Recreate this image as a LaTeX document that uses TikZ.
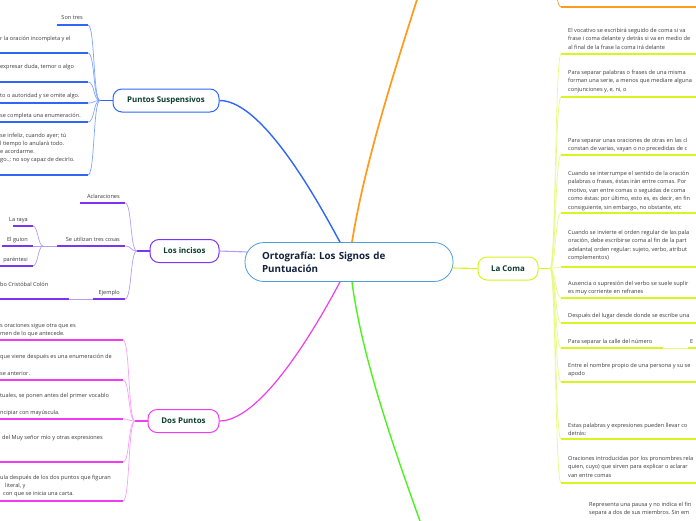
\documentclass[tikz,border=0pt]{standalone}
\usepackage{fontspec}
\setmainfont{Open Sans}
\frenchspacing
\definecolor{cenc}{HTML}{4F9DD6}
\definecolor{ink}{HTML}{14213D}
\definecolor{topicc}{HTML}{0B3D2C}
\definecolor{txt}{HTML}{3A3A3A}
\definecolor{psc}{HTML}{2F66F5}
\definecolor{pslt}{HTML}{7EA4FF}
\definecolor{orc}{HTML}{FF9A1A}
\definecolor{lic}{HTML}{7A35F0}
\definecolor{lilt}{HTML}{B49CF7}
\definecolor{dpc}{HTML}{EE3CEE}
\definecolor{dplt}{HTML}{F7A0F7}
\definecolor{grc}{HTML}{4DF21E}
\definecolor{lcc}{HTML}{D8F520}
\definecolor{lclt}{HTML}{E6FA80}
\begin{document}
\begin{tikzpicture}[x=1pt,y=-1pt,
  every node/.style={font=\fontsize{5.6}{8.5}\selectfont,text=txt,inner sep=0pt},
  central/.style={draw=cenc,line width=0.8pt,fill=white,rounded corners=19pt,minimum width=208pt,minimum height=39pt,text width=174pt,align=left,text=ink,font=\fontsize{9.8}{13}\selectfont\bfseries},
  topic/.style={draw=#1,line width=1pt,fill=white,rounded corners=9pt,minimum height=23pt,text=topicc,font=\fontsize{7.9}{9}\selectfont\bfseries},
  branch/.style={draw=#1,line width=1.4pt},
  uline/.style={draw=#1,line width=1.7pt},
  link/.style={draw=#1,line width=0.7pt}]
\useasboundingbox (0,0) rectangle (696,520);
% main topic and the four visible subtopics
\node[central] (root) at (349,262) {Ortografía: Los Signos de\\Puntuación};
\node[topic=psc,minimum width=106pt] (ps) at (166,100.5) {Puntos Suspensivos};
\node[topic=lic,minimum width=69pt] (li) at (184.5,251) {Los incisos};
\node[topic=dpc,minimum width=71pt] (dp) at (183.5,421) {Dos Puntos};
\node[topic=lcc,minimum width=60pt] (lc) at (508,268.5) {La Coma};
% branches out of the main topic
\coordinate (orend) at (420,-10);
\coordinate (grend) at (425,535);
\draw[branch=psc] ([xshift=-9pt]root.north) .. controls (325,215) and (265,100) .. (ps.east);
\draw[branch=orc,line width=1.7pt] ([xshift=3pt]root.north) .. controls (365,160) and (398,60) .. (orend);
\draw[branch=dpc,line width=1.2pt] ([xshift=-9pt]root.south) .. controls (325,310) and (265,421) .. (dp.east);
\draw[branch=grc] ([xshift=3pt]root.south) .. controls (362,360) and (398,460) .. (grend);
\draw[branch=lilt,line width=1.1pt] ([shift={(3pt,10pt)}]root.west) -- (li.east);
\draw[branch=lcc,line width=1.1pt] ([shift={(-1pt,-6pt)}]root.east) -- (lc.west);
% Puntos Suspensivos
\coordinate (psj) at (100,100.5);
\draw[branch=psc,line width=1.2pt] (ps.west) -- (psj);
\foreach \k/\y/\xs in {1/25/57,2/53/-5,3/82/-5,4/103/-5,5/122/-5,6/175/-5} {
  \coordinate (ps\k) at (88,\y); \coordinate (psa\k) at (\xs,\y);
  \draw[link=pslt] (psj) .. controls +(-7,0) and +(7,0) .. (ps\k);
  \draw[uline=psc] (psa\k) -- (ps\k);
}
\node[anchor=base east] (pst1) at (83,19) {Son tres};
\node[anchor=base west] (pst2) at (0,40) {r la oración incompleta y el};
\node[anchor=base west] (pst3) at (0,68) {expresar duda, temor o algo};
\node[anchor=base west] (pst4) at (0,97) {to o autoridad y se omite algo.};
\node[anchor=base west] (pst5) at (0,117) {se completa una enumeración.};
\node[anchor=base west,align=left,font=\fontsize{5.6}{8}\selectfont] (pst6) at (0,161) {se infeliz, cuando ayer; tú\\l tiempo lo anulará todo.\\e acordarme.\\go..; no soy capaz de decirlo.};
% Los incisos
\coordinate (lij) at (137,251);
\draw[branch=lic,line width=1.1pt] (li.west) -- (lij);
\foreach \k/\y/\xs in {1/203/80,2/246/57,3/299/93} {
  \coordinate (li\k) at (125,\y); \coordinate (lia\k) at (\xs,\y);
  \draw[link=lilt] (lij) .. controls +(-7,0) and +(7,0) .. (li\k);
  \draw[uline=lic] (lia\k) -- (li\k);
}
\node[anchor=base east] (lit1) at (120,198) {Aclaraciones};
\node[anchor=base east] (lit2) at (120,241) {Se utilizan tres cosas};
\node[anchor=base east] (lit3) at (120,294) {Ejemplo};
% three kinds of inciso
\coordinate (lik) at (43,246);
\draw[link=lilt] (lia2) -- (lik);
\foreach \k/\y/\xs in {1/226/13,2/246/2,3/266/-5} {
  \coordinate (lt\k) at (33,\y); \coordinate (lta\k) at (\xs,\y);
  \draw[link=lilt] (lik) .. controls +(-5,0) and +(5,0) .. (lt\k);
  \draw[uline=lic] (lta\k) -- (lt\k);
}
\node[anchor=base east] (ltt1) at (28,221) {La raya};
\node[anchor=base east] (ltt2) at (28,241) {El guion};
\node[anchor=base east] (ltt3) at (28,261) {paréntesi};
% example
\coordinate (le1) at (69,299); \coordinate (lea) at (-5,299);
\draw[link=lilt] (lia3) -- (le1);
\draw[uline=lic] (lea) -- (le1);
\node[anchor=base west] (let1) at (0,286) {bo Cristóbal Colón};
% Dos Puntos
\coordinate (dpj) at (135,421);
\draw[branch=dpc,line width=1.1pt] (dp.west) -- (dpj);
\foreach \k/\y in {1/340,2/380,3/419,4/462,5/501} {
  \coordinate (dp\k) at (123,\y); \coordinate (dpa\k) at (-5,\y);
  \draw[link=dplt] (dpj) .. controls +(-7,0) and +(7,0) .. (dp\k);
  \draw[uline=dpc] (dpa\k) -- (dp\k);
}
\node[anchor=base west,align=left] (dpt1) at (0,335.5) {s oraciones sigue otra que es\\men de lo que antecede.};
\node[anchor=base west,align=left] (dpt2) at (0,375) {que viene después es una enumeración de\\[8.5pt]se anterior.};
\node[anchor=base west,align=left] (dpt3) at (0,414) {tuales, se ponen antes del primer vocablo\\[8.5pt]ncipiar con mayúscula.};
\node[anchor=base west] (dpt4) at (2,439) {del Muy señor mío y otras expresiones};
\node[anchor=base west] (dpt5) at (0,479) {ula después de los dos puntos que figuran};
\node[anchor=base west] (dpt6) at (5,487) {literal, y};
\node[anchor=base west] (dpt7) at (3,495) {con que se inicia una carta.};
% La Coma
\coordinate (lcj) at (550,268.5);
\draw[branch=lcc,line width=1.1pt] (lc.east) -- (lcj);
\foreach \k/\y/\xe in {1/54/705,2/97/705,3/155/705,4/213/705,5/267/705,6/298/705,7/323/705,8/348/663,9/382/705,10/439/705,11/483/705} {
  \coordinate (lc\k) at (561,\y); \coordinate (lce\k) at (\xe,\y);
  \draw[link=lclt] (lcj) .. controls +(6,0) and +(-6,0) .. (lc\k);
  \draw[uline=lcc] (lc\k) -- (lce\k);
}
\node[anchor=base west,align=left] (lct1) at (568,49) {El vocativo se escribirá seguido de coma si va\\frase i coma delante y detrás si va en medio de\\al final de la frase la coma irá delante};
\node[anchor=base west,align=left] (lct2) at (568,91) {Para separar palabras o frases de una misma\\forman una serie, a menos que mediare alguna\\conjunciones y, e, ni, o};
\node[anchor=base west,align=left] (lct3) at (568,150.5) {Para separar unas oraciones de otras en las cl\\constan de varias, vayan o no precedidas de c};
\node[anchor=base west,align=left] (lct4) at (568,209) {Cuando se interrumpe el sentido de la oración\\palabras o frases, éstas irán entre comas. Por\\motivo, van entre comas o seguidas de coma\\como éstas: por último, esto es, es decir, en fin\\consiguiente, sin embargo, no obstante, etc};
\node[anchor=base west,align=left] (lct5) at (568,259.5) {Cuando se invierte el orden regular de las pala\\oración, debe escribirse coma al fin de la part\\adelanta( orden regular: sujeto, verbo, atribut\\complementos)};
\node[anchor=base west,align=left] (lct6) at (568,293.5) {Ausencia o supresión del verbo se suele suplir\\es muy corriente en refranes};
\node[anchor=base west] (lct7) at (568,317) {Después del lugar desde donde se escribe una};
\node[anchor=base west] (lct8) at (568,343) {Para separar la calle del número};
\node[anchor=base west,align=left] (lct9) at (568,375.5) {Entre el nombre propio de una persona y su se\\apodo};
\node[anchor=base west,align=left] (lct10) at (568,435.5) {Estas palabras y expresiones pueden llevar co\\detrás:};
\node[anchor=base west,align=left] (lct11) at (568,477) {Oraciones introducidas por los pronombres rela\\quien, cuyo) que sirven para explicar o aclarar\\van entre comas};
% street number example
\coordinate (lh1) at (688,348); \coordinate (lhe) at (705,348);
\draw[link=lclt] (lce8) -- (lh1);
\draw[uline=lcc] (lh1) -- (lhe);
\node[anchor=base west] (lht1) at (690,343) {E};
% orange branch box, cut at the top
\coordinate (ocj) at (551,-30); \coordinate (oc1) at (561,7); \coordinate (oce) at (705,7);
\draw[link=orc] (ocj) .. controls +(6,0) and +(-6,0) .. (oc1);
\draw[uline=orc] (oc1) -- (oce);
% green branch text, cut at the bottom
\node[anchor=base west,align=left] (pyc1) at (589,514.5) {Representa una pausa y no indica el fin\\separa a dos de sus miembros. Sin em};
\end{tikzpicture}
\end{document}
